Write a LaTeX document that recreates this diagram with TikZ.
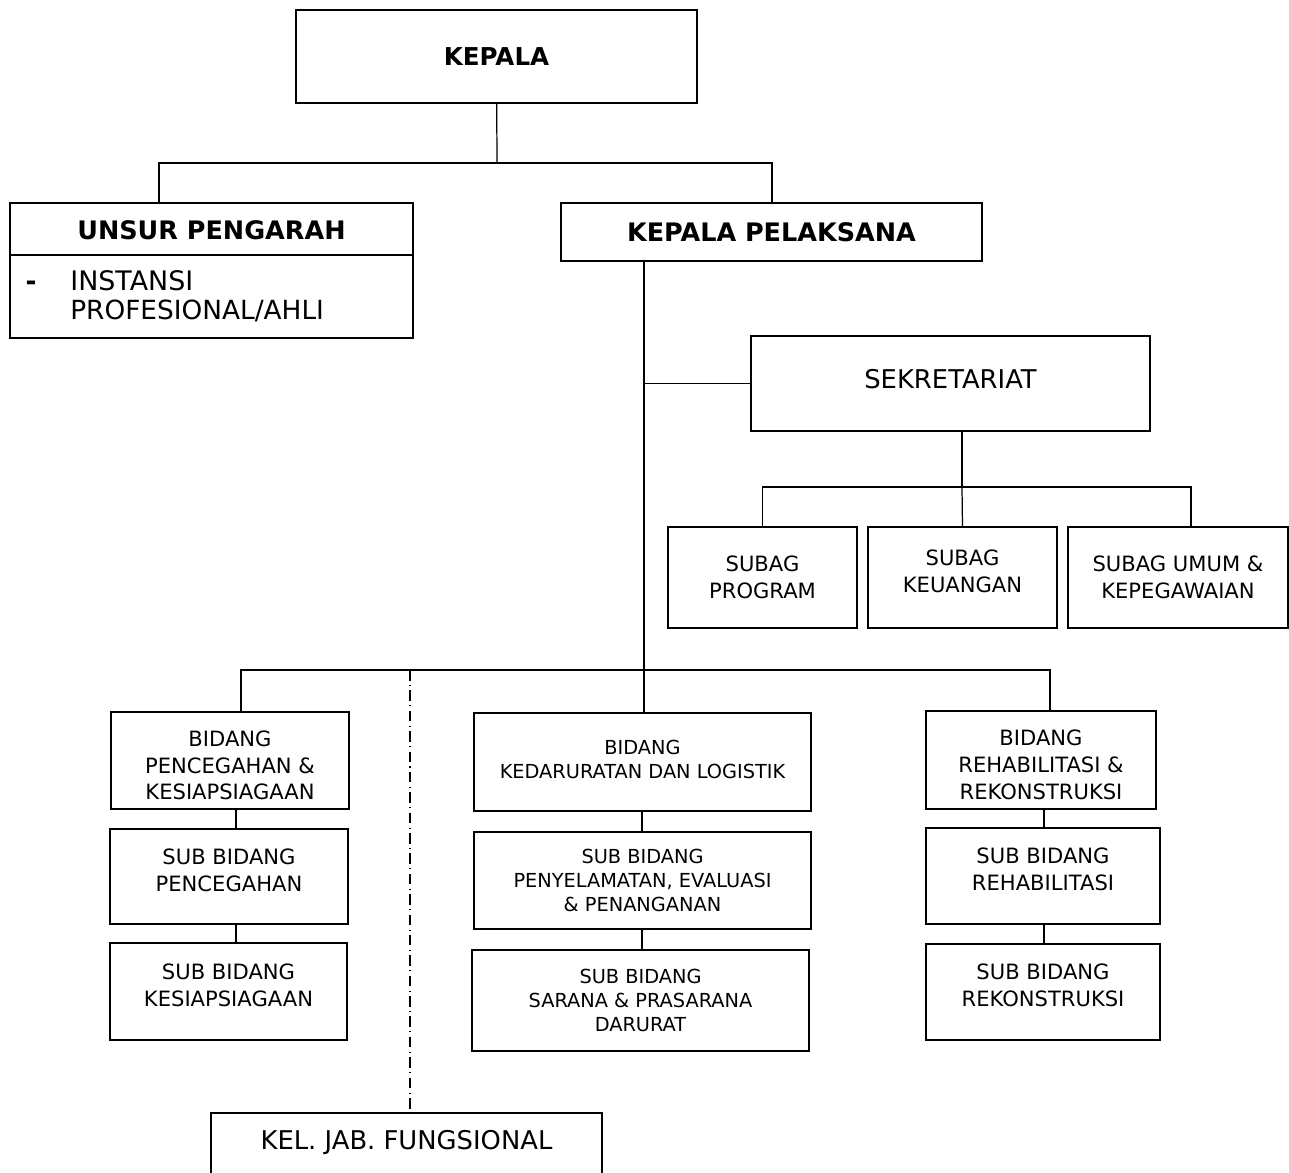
\documentclass[tikz,border=0pt]{standalone}
\usepackage{fontspec}
\setmainfont{DejaVu Sans}
\newcommand{\lift}{\rule[-7.4pt]{0pt}{7.4pt}}
\newcommand{\drop}{\rule{0pt}{14.4pt}}

\begin{document}
\begin{tikzpicture}[x=0.02cm, y=-0.02cm,
    box/.style = {draw, line width=1.1pt, align=center, inner sep=0pt, outer sep=0pt},
    link/.style = {line width=0.7pt},
    big/.style = {font=\fontsize{14.5}{17}\selectfont\bfseries},
    mid/.style = {font=\fontsize{12}{15.2}\selectfont},
    small/.style = {font=\fontsize{11}{13.8}\selectfont}]
    \useasboundingbox (0, 0) rectangle (1289, 1173);

    % top
    \node[box, minimum width = 8.02cm, minimum height = 1.86cm, font = \fontsize{14}{16}\selectfont\bfseries] (kepala) at (496.5, 56.5) {KEPALA};
    \node[box, big, minimum width = 8.06cm, minimum height = 1.04cm] (unsur) at (211.5, 229) {\rule{0pt}{12pt}UNSUR PENGARAH};
    \node[box, minimum width = 8.06cm, minimum height = 1.66cm, anchor = north] (unsur body) at (unsur.south) {};
    \node[anchor = base west, inner sep = 0pt, font = \fontsize{15.3}{17}\selectfont] (instansi) at (70, 290) {INSTANSI};
    \node[anchor = base west, inner sep = 0pt, font = \fontsize{15}{17}\selectfont] (profesional) at (70, 319) {PROFESIONAL/AHLI};
    \node[anchor = base, inner sep = 0pt, font = \fontsize{15}{17}\selectfont\bfseries] (bullet) at (31, 290) {-};
    \node[box, big, minimum width = 8.42cm, minimum height = 1.16cm] (pelaksana) at (771.5, 232) {KEPALA PELAKSANA};
    \coordinate (split) at (497, 163);
    \draw[link] (kepala) -- (split);
    \draw[link] (unsur.north -| 159, 0) |- (split) -| (pelaksana.north -| 772, 0);

    % sekretariat
    \node[box, minimum width = 7.98cm, minimum height = 1.9cm, font = \fontsize{14.7}{17}\selectfont] (sekretariat) at (950.5, 383.5) {SEKRETARIAT\rule[-5pt]{0pt}{5pt}};
    \node[box, mid, minimum width = 3.78cm, minimum height = 2.02cm] (program) at (762.5, 577.5) {SUBAG\\PROGRAM};
    \node[box, mid, minimum width = 3.78cm, minimum height = 2.02cm] (keuangan) at (962.5, 577.5) {SUBAG\\KEUANGAN\lift};
    \node[box, mid, minimum width = 4.4cm, minimum height = 2.02cm, anchor = west] (umum) at (1068, 577.5) {SUBAG UMUM \&\\KEPEGAWAIAN};
    \coordinate (sek split) at (962, 487);
    \draw[link] (sekretariat.south -| sek split) -- (sek split);
    \draw[link] (program.north) |- (sek split) -| (umum.north -| 1191, 0);
    \draw[link] (sek split) -- (keuangan.north);

    % bidang
    \node[box, mid, minimum width = 4.76cm, minimum height = 1.94cm] (bid cegah) at (230, 760.5) {\drop BIDANG\\PENCEGAHAN \&\\KESIAPSIAGAAN};
    \node[box, mid, minimum width = 4.76cm, minimum height = 1.9cm] (sub cegah) at (229, 876.5) {SUB BIDANG\\PENCEGAHAN\lift};
    \node[box, mid, minimum width = 4.74cm, minimum height = 1.94cm] (sub siaga) at (228.5, 991.5) {SUB BIDANG\\KESIAPSIAGAAN\lift};
    \node[box, small, minimum width = 6.74cm, minimum height = 1.96cm] (bid darurat) at (642.5, 762) {BIDANG\\KEDARURATAN DAN LOGISTIK\rule[-2.8pt]{0pt}{2.8pt}};
    \node[box, small, minimum width = 6.74cm, minimum height = 1.94cm] (sub selamat) at (642.5, 880.5) {SUB BIDANG\\PENYELAMATAN, EVALUASI\\\& PENANGANAN};
    \node[box, small, minimum width = 6.74cm, minimum height = 2.02cm] (sub sarana) at (640.5, 1000.5) {SUB BIDANG\\SARANA \& PRASARANA\\DARURAT};
    \node[box, mid, minimum width = 4.6cm, minimum height = 1.96cm] (bid rehab) at (1041, 760) {\drop BIDANG\\REHABILITASI \&\\REKONSTRUKSI};
    \node[box, mid, minimum width = 4.68cm, minimum height = 1.92cm] (sub rehab) at (1043, 876) {SUB BIDANG\\REHABILITASI\lift};
    \node[box, mid, minimum width = 4.68cm, minimum height = 1.92cm] (sub rekon) at (1043, 992) {SUB BIDANG\\REKONSTRUKSI\lift};
    \node[box, minimum width = 7.82cm, minimum height = 1.6cm, anchor = north, font = \fontsize{14.7}{17}\selectfont] (fungsional) at (406.5, 1113) {KEL. JAB. FUNGSIONAL\rule[-0.52cm]{0pt}{0.52cm}};

    \coordinate (bid split) at (644, 670);
    \draw[link] (pelaksana.south -| bid split) -- (bid darurat.north -| bid split);
    \draw[link] (bid split |- sekretariat.west) -- (sekretariat.west);
    \draw[link] (bid cegah.north -| 241, 0) |- (bid split) -| (bid rehab.north -| 1050, 0);
    \draw[line width = 0.6pt, dash pattern = on 6pt off 2.5pt on 0.6pt off 2.5pt] (410, 670) -- (fungsional.north -| 410, 0);
    \draw[link] (bid cegah.south -| 236, 0) -- (sub cegah.north -| 236, 0);
    \draw[link] (sub cegah.south -| 236, 0) -- (sub siaga.north -| 236, 0);
    \draw[link] (bid darurat.south -| 642, 0) -- (sub selamat.north -| 642, 0);
    \draw[link] (sub selamat.south -| 642, 0) -- (sub sarana.north -| 642, 0);
    \draw[link] (bid rehab.south -| 1044, 0) -- (sub rehab.north -| 1044, 0);
    \draw[link] (sub rehab.south -| 1044, 0) -- (sub rekon.north -| 1044, 0);
\end{tikzpicture}
\end{document}
